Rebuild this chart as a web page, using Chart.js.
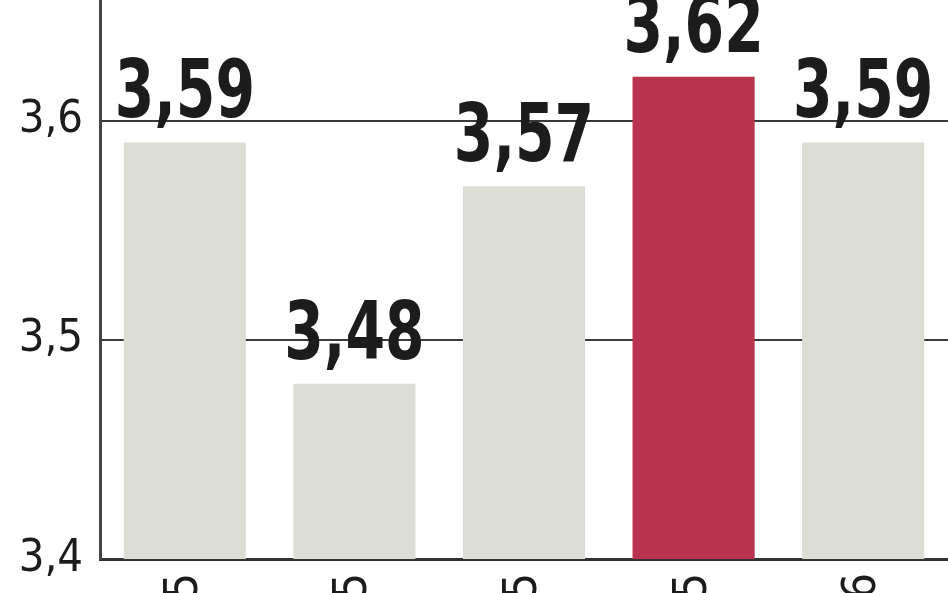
<!DOCTYPE html>
<html>
<head>
<meta charset="utf-8">
<script src="https://cdn.jsdelivr.net/npm/chart.js@4"></script>
<style>
html,body{margin:0;padding:0;background:#fff;overflow:hidden;}
#wrap{width:948px;height:593px;}
</style>
</head>
<body>
<div id="wrap"><canvas id="c" width="948" height="593"></canvas></div>
<script>
const categories = ["I kw. 2015", "II kw. 2015", "III kw. 2015", "IV kw. 2015", "I kw. 2016"];
const values = [3.59, 3.48, 3.57, 3.62, 3.59];
const barColors = ["#dcddd3", "#dcddd3", "#dcddd3", "#b93351", "#dcddd3"];
const yTicks = [3.4, 3.5, 3.6];

const fmt = v => v.toFixed(2).replace('.', ',');
const FONT = "'Liberation Sans Narrow', 'DejaVu Sans Condensed', sans-serif";

const valueLabels = {
  id: 'valueLabels',
  afterDatasetsDraw(chart) {
    const ctx = chart.ctx;
    const meta = chart.getDatasetMeta(0);
    meta.data.forEach((bar, i) => {
      ctx.save();
      ctx.font = "bold 80px " + FONT;
      ctx.fillStyle = "#1c1c1c";
      ctx.textAlign = "center";
      ctx.textBaseline = "alphabetic";
      ctx.translate(bar.x, bar.y - 25);
      ctx.scale(0.79, 1);
      ctx.fillText(fmt(chart.data.datasets[0].data[i]), 0, 0);
      ctx.restore();
    });
  }
};

new Chart(document.getElementById('c'), {
  type: 'bar',
  data: {
    labels: categories,
    datasets: [{
      data: values,
      backgroundColor: barColors,
      borderWidth: 0,
      categoryPercentage: 1.0,
      barPercentage: 0.72
    }]
  },
  options: {
    responsive: false,
    animation: false,
    layout: { padding: 0 },
    plugins: { legend: { display: false }, tooltip: { enabled: false } },
    scales: {
      x: {
        grid: { display: false, drawTicks: false },
        border: { display: true, color: '#333', width: 3 },
        ticks: {
          minRotation: 90, maxRotation: 90,
          padding: 14,
          color: '#1c1c1c',
          font: { family: FONT, size: 46 }
        },
        afterFit(scale) {
          scale.height = 34;
          scale.paddingLeft = 0;
          scale.paddingRight = 0;
        }
      },
      y: {
        min: 3.4,
        max: 3.655,
        afterBuildTicks(scale) {
          scale.ticks = yTicks.map(v => ({ value: v }));
        },
        ticks: {
          includeBounds: false,
          padding: 17,
          color: '#1c1c1c',
          font: { family: FONT, size: 45 },
          callback: v => Number(v).toFixed(1).replace('.', ',')
        },
        grid: { color: '#3a3a3a', lineWidth: 2, drawTicks: false },
        border: { display: true, color: '#444', width: 3 },
        afterFit(scale) {
          scale.width = 100;
          scale.paddingTop = 0;
          scale.paddingBottom = 0;
        }
      }
    }
  },
  plugins: [valueLabels]
});
</script>
</body>
</html>
